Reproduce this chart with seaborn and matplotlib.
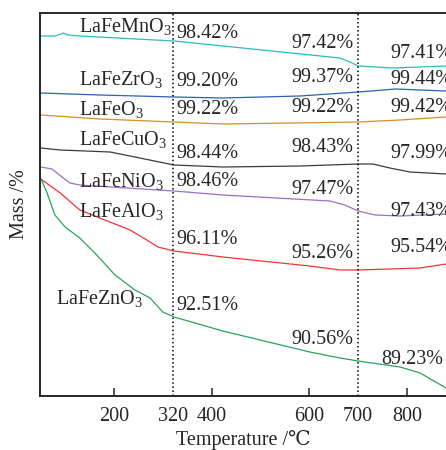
import numpy as np
import pandas as pd
import matplotlib
matplotlib.use("Agg")
import matplotlib.pyplot as plt
import seaborn as sns

# TG curves, stacked with an offset (relative mass, a.u.)
mn_T = [50, 80, 96, 106, 130, 323, 423, 663, 683, 700, 771, 880]
mn_y = [360, 360, 363, 361, 360, 355, 350, 338, 334, 330, 328, 330]

zr_T = [50, 171, 323, 423, 581, 700, 777, 827, 880]
zr_y = [303, 301, 299, 298, 300, 304, 307, 306, 305]

fe_T = [50, 171, 323, 423, 700, 786, 880]
fe_y = [281, 277, 274, 272, 274, 276, 279]

cu_T = [50, 90, 192, 253, 323, 423, 581, 700, 730, 765, 806, 880]
cu_y = [248, 246, 244, 238, 231, 229, 230, 232, 232, 228, 224, 222]

ni_T = [50, 73, 96, 110, 130, 323, 423, 642, 673, 700, 735, 786, 880]
ni_y = [229, 227, 218, 213, 211, 205, 201, 195, 191, 185, 181, 180, 182]

al_T = [50, 90, 130, 171, 233, 264, 290, 323, 423, 601, 663, 700, 827, 880]
al_y = [217, 203, 186, 178, 166, 157, 149, 145, 139, 130, 126, 126, 128, 132]

zn_T = [50, 63, 79, 100, 130, 161, 202, 243, 274, 300, 323, 423, 601, 663, 700, 786, 827, 880]
zn_y = [218, 203, 181, 169, 158, 143, 121, 106, 98, 84, 79, 65, 44, 38, 35, 29, 23, 8]

names = ["LaFeMnO$_3$", "LaFeZrO$_3$", "LaFeO$_3$", "LaFeCuO$_3$",
         "LaFeNiO$_3$", "LaFeAlO$_3$", "LaFeZnO$_3$"]
colors = ["#2bbcc0", "#2a62b8", "#d4902a", "#3c3c3c", "#9b6fc8", "#ee3535", "#2ca35a"]
curves = [(mn_T, mn_y), (zr_T, zr_y), (fe_T, fe_y), (cu_T, cu_y),
          (ni_T, ni_y), (al_T, al_y), (zn_T, zn_y)]

# mass retained at 320, 700 and 850 C
pct_320 = ["98.42%", "99.20%", "99.22%", "98.44%", "98.46%", "96.11%", "92.51%"]
pct_700 = ["97.42%", "99.37%", "99.22%", "98.43%", "97.47%", "95.26%", "90.56%"]
pct_end = ["97.41%", "99.44%", "99.42%", "97.99%", "97.43%", "95.54%", "89.23%"]

# label anchor heights
name_y = [364, 311, 281, 251, 209, 179, 92]
name_x = [128, 128, 128, 128, 128, 128, 81]
y_320 = [363, 314, 286, 243, 215, 157, 91]
y_700 = [353, 318, 288, 249, 207, 143, 56]
y_end = [343, 316, 288, 243, 185, 148, 36]
x_end = [767, 767, 767, 767, 767, 767, 747]

sns.set_style("ticks")
plt.rcParams["font.family"] = ["Liberation Serif", "DejaVu Serif"]
plt.rcParams["mathtext.fontset"] = "custom"
plt.rcParams["mathtext.rm"] = "Liberation Serif"
plt.rcParams["mathtext.it"] = "Liberation Serif:italic"

fs = 14.5
fig = plt.figure(figsize=(4.46, 4.50), dpi=100)
ax = fig.add_axes([40 / 446, 1 - 396 / 450, 1 - 40 / 446, (396 - 13) / 450])

rows = []
for name, (T, y) in zip(names, curves):
    for t, v in zip(T, y):
        rows.append({"T": t, "m": v, "sample": name})
df = pd.DataFrame(rows)
sns.lineplot(data=df, x="T", y="m", hue="sample", palette=colors,
             hue_order=names, linewidth=0.9, legend=False, ax=ax)

for xv in [320, 700]:
    ax.axvline(xv, color="k", ls=":", lw=1.1)

for i in range(len(names)):
    ax.text(name_x[i], name_y[i], names[i], fontsize=fs, va="baseline", ha="left")
    ax.text(327, y_320[i], pct_320[i], fontsize=fs, va="center", ha="left")
    ax.text(691, y_700[i], pct_700[i], fontsize=fs, va="center", ha="right")
    ax.text(x_end[i], y_end[i], pct_end[i], fontsize=fs, va="center", ha="left")

ax.set_xlim(48.5, 880)
ax.set_ylim(0, 383)
ax.set_yticks([])
ax.set_xticks([200, 320, 400, 600, 700, 800])
ax.set_xticklabels(["200", "320", "400", "600", "700", "800"], fontsize=fs)
ax.tick_params(axis="x", direction="in", length=6, width=1.1, pad=8)
for tk in ax.xaxis.get_major_ticks():
    if tk.get_loc() in (320, 700):
        tk.tick1line.set_visible(False)
ax.set_xlabel("Temperature /\u2103", fontsize=fs, labelpad=3)
ax.set_ylabel("Mass /%", fontsize=fs, labelpad=8)
ax.spines["right"].set_visible(False)
for s in ["left", "bottom", "top"]:
    ax.spines[s].set_linewidth(1.4)

fig.savefig("out.png", dpi=100)
